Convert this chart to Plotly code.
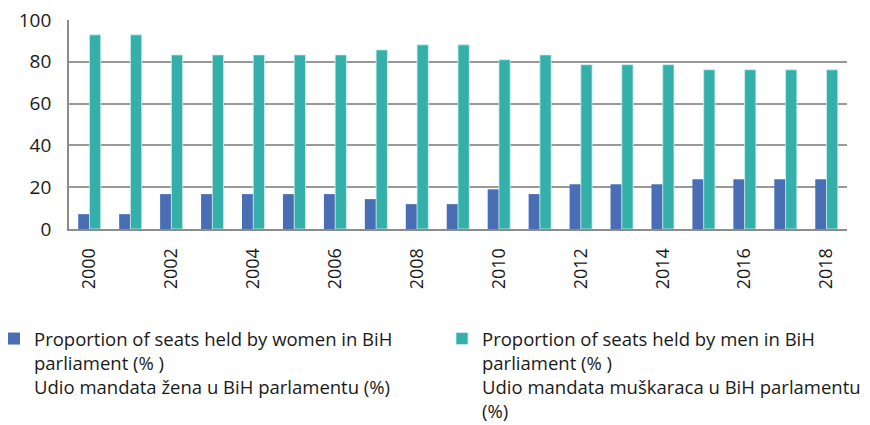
import plotly.graph_objects as go

years = [str(y) for y in range(2000, 2019)]
women = [7.1, 7.1, 16.7, 16.7, 16.7, 16.7, 16.7, 14.3, 11.9, 11.9, 19.0, 16.7,
         21.4, 21.4, 21.4, 23.8, 23.8, 23.8, 23.8]
men = [92.9, 92.9, 83.3, 83.3, 83.3, 83.3, 83.3, 85.7, 88.1, 88.1, 81.0, 83.3,
       78.6, 78.6, 78.6, 76.2, 76.2, 76.2, 76.2]
x_tick_labels = [str(y) for y in range(2000, 2019, 2)]
y_tick_vals = [0, 20, 40, 60, 80, 100]

name_women = ("Proportion of seats held by women in BiH<br>parliament (% )<br>"
              "Udio mandata žena u BiH parlamentu (%)")
name_men = ("Proportion of seats held by men in BiH<br>parliament (% )<br>"
            "Udio mandata muškaraca u BiH parlamentu<br>(%)")

FONT = "Open Sans"
fig = go.Figure()
fig.add_trace(go.Bar(x=years, y=women, name=name_women, legend="legend",
                     marker=dict(color="#4A6EB4", line=dict(width=0))))
fig.add_trace(go.Bar(x=years, y=men, name=name_men, legend="legend2",
                     marker=dict(color="#35AFA9", line=dict(color="#CDEFEC", width=0.8))))

legend_common = dict(
    xref="paper", yref="container", xanchor="left", yanchor="top",
    valign="top", bgcolor="rgba(0,0,0,0)", y=0.247,
    font=dict(family=FONT, size=18.5, color="#1a1a1a"),
    itemclick=False, itemdoubleclick=False,
)

fig.update_layout(
    width=870, height=425,
    margin=dict(l=69, r=23, t=20, b=196, autoexpand=False),
    paper_bgcolor="white", plot_bgcolor="white",
    barmode="group", bargap=0.45, bargroupgap=0,
    font=dict(family=FONT, color="#1a1a1a", size=18),
    showlegend=True,
    legend=dict(x=(-6 - 69) / 778, **legend_common),
    legend2=dict(x=(442 - 69) / 778, **legend_common),
    xaxis=dict(
        type="category", tickmode="array", tickvals=x_tick_labels, ticktext=x_tick_labels,
        tickangle=-90, showgrid=False, showline=True, linecolor="#8c8c8c", linewidth=1.8,
        ticks="", ticklabelstandoff=10, tickfont=dict(size=18),
    ),
    yaxis=dict(
        range=[0, 100], tickmode="array", tickvals=y_tick_vals,
        showgrid=True, gridcolor="#999999", gridwidth=1.7,
        showline=True, linecolor="#8c8c8c", linewidth=1.8,
        zeroline=False, ticks="", ticklabelstandoff=12, tickfont=dict(size=19),
    ),
)

fig.write_html("out.html", config={"displayModeBar": False},
               post_script="document.body.style.margin='0';")
